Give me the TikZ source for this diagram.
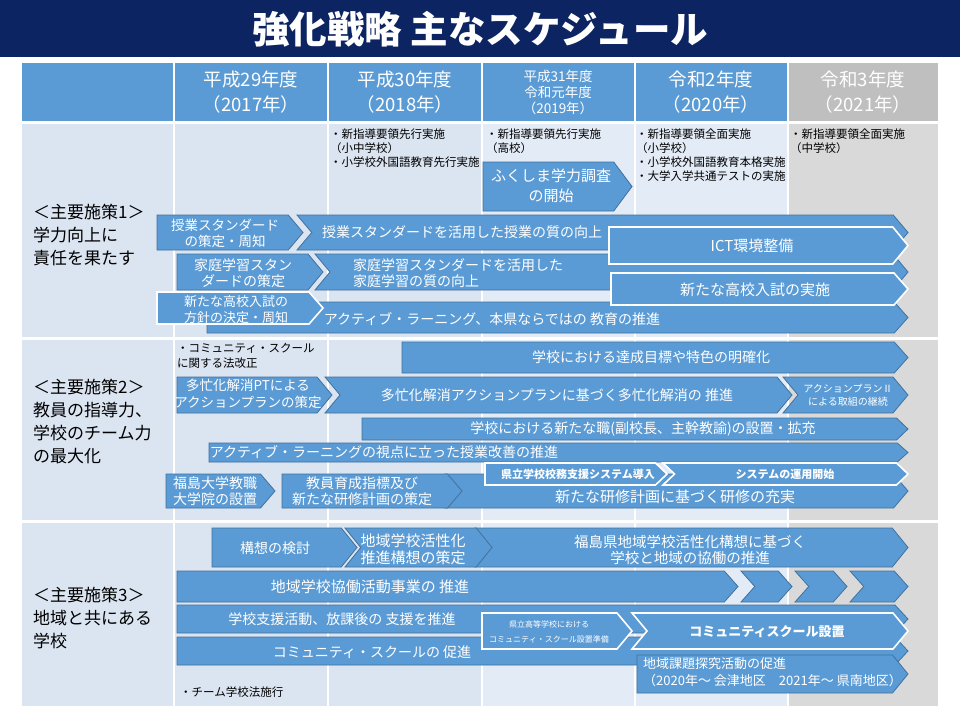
\documentclass[tikz,border=0pt]{standalone}
\usepackage{fontspec}
\setmainfont{Noto Sans CJK JP}
\usepackage{tikz}

\definecolor{navy}{RGB}{12,36,98}
\definecolor{hdblue}{RGB}{91,155,213}
\definecolor{hdgray}{RGB}{191,191,191}
\definecolor{cellA}{RGB}{219,228,241}
\definecolor{cellB}{RGB}{227,235,246}
\definecolor{cellG}{RGB}{217,217,217}
\definecolor{barblue}{RGB}{91,155,213}
\definecolor{bardark}{RGB}{65,113,156}

% 矢印バー：style, 左x, 先端x, 上y, 下y, 左の切欠き(0/1)
\newcommand{\arrbar}[6]{%
  \pgfmathsetmacro{\tipd}{0.25*(#5-#4)+6}%
  \pgfmathsetmacro{\ymid}{(#4+#5)/2}%
  \draw[#1] (#2,#4) -- ({#3-\tipd},#4) -- (#3,\ymid) -- ({#3-\tipd},#5) -- (#2,#5) -- ({#2+#6*\tipd},\ymid) -- cycle;}

\begin{document}
\begin{tikzpicture}[x=1pt, y=-1pt, line join=miter,
  bar/.style={fill=barblue, draw=bardark, line width=0.8pt},
  wbar/.style={fill=barblue, draw=white, line width=1.6pt},
  wtxt/.style={text=white, inner sep=0pt, align=center, font=\fontsize{14}{16.5}\selectfont},
  note/.style={anchor=north west, inner sep=0pt, align=left, font=\fontsize{11.5}{14}\selectfont},
  head/.style={text=white, inner sep=0pt, align=center, font=\fontsize{18.5}{25}\selectfont},
  side/.style={anchor=west, inner sep=0pt, align=left, font=\fontsize{17}{23}\selectfont}]

  %% ════ 背景・タイトル ════
  \fill[white] (0,0) rectangle (960,720);
  \fill[navy] (0,0) rectangle (960,57);
  \node[text=white, draw=none, inner sep=0pt, font=\fontsize{37.5}{40}\selectfont\bfseries] (title) at (480,29) {強化戦略 主なスケジュール};

  %% ════ 表の枠 ════
  \fill[hdblue] (22,63) rectangle (788,121);
  \fill[hdgray] (788,63) rectangle (938,121);
  \fill[cellA] (22,124) rectangle (482,706);
  \fill[cellB] (482,124) rectangle (788,706);
  \fill[cellG] (788,124) rectangle (938,706);
  \foreach \gx in {174,328,482,635,788}
    \draw[white, line width=1.5pt] (\gx,63) -- (\gx,706);
  \foreach \gy in {122.5,338.5,521.5}
    \draw[white, line width=2.5pt] (22,\gy) -- (938,\gy);

  %% ════ 年度 ════
  \node[head] (y2017) at (251,92) {平成29年度\\（2017年）};
  \node[head] (y2018) at (405,92) {平成30年度\\（2018年）};
  \node[head, font=\fontsize{13.5}{16}\selectfont] (y2019) at (558,92) {平成31年度\\令和元年度\\（2019年）};
  \node[head] (y2020) at (711,92) {令和2年度\\（2020年）};
  \node[head] (y2021) at (863,92) {令和3年度\\（2021年）};

  %% ════ 主要施策 ════
  \node[side] (sec1) at (33,235) {＜主要施策1＞\\学力向上に\\責任を果たす};
  \node[side] (sec2) at (33,421) {＜主要施策2＞\\教員の指導力、\\学校のチーム力\\の最大化};
  \node[side] (sec3) at (33,618) {＜主要施策3＞\\地域と共にある\\学校};

  %% ════ 施策1 ════
  \node[note] (n2018) at (330,129) {・新指導要領先行実施\\（小中学校）\\・小学校外国語教育先行実施};
  \node[note] (n2019) at (486,129) {・新指導要領先行実施\\（高校）};
  \node[note] (n2020) at (636,129) {・新指導要領全面実施\\（小学校）\\・小学校外国語教育本格実施\\・大学入学共通テストの実施};
  \node[note] (n2021) at (790,129) {・新指導要領全面実施\\（中学校）};

  \arrbar{bar}{483}{632}{162}{211}{0}
  \node[wtxt, font=\fontsize{15}{20}\selectfont] (fukuTest) at (551,186) {ふくしま学力調査\\の開始};

  \arrbar{bar}{297}{908}{215}{250}{1}
  \node[wtxt] (jugyoUp) at (462,232) {授業スタンダードを活用した授業の質の向上};
  \arrbar{bar}{157}{303}{215}{250}{0}
  \node[wtxt, font=\fontsize{13.5}{16}\selectfont] (jugyoStd) at (225,233) {授業スタンダード\\の策定・周知};

  \arrbar{bar}{315}{908}{254}{290}{1}
  \node[wtxt, anchor=west, align=left] (kateiUp) at (353,273) {家庭学習スタンダードを活用した\\家庭学習の質の向上};
  \arrbar{bar}{177}{323}{254}{290}{0}
  \node[wtxt] (kateiStd) at (243,273) {家庭学習スタン\\ダードの策定};

  \arrbar{wbar}{609}{908}{227}{264}{0}
  \node[wtxt, font=\fontsize{15}{17}\selectfont] (ict) at (752,246) {ICT環境整備};

  \arrbar{bar}{207}{908}{302}{333}{0}
  \node[wtxt] (active1) at (492,319) {アクティブ・ラーニング、本県ならではの 教育の推進};

  \arrbar{wbar}{611}{908}{273}{305}{0}
  \node[wtxt, font=\fontsize{15}{17}\selectfont] (nyushiDo) at (755,290) {新たな高校入試の実施};

  \arrbar{wbar}{157}{323}{292}{324}{0}
  \node[wtxt, font=\fontsize{13}{16}\selectfont] (nyushiPlan) at (236,310) {新たな高校入試の\\方針の決定・周知};

  %% ════ 施策2 ════
  \node[note, font=\fontsize{11.5}{15}\selectfont] (nLaw) at (177,343) {・コミュニティ・スクール\\に関する法改正};

  \arrbar{bar}{402}{908}{342}{373}{0}
  \node[wtxt] (goal) at (651,357) {学校における達成目標や特色の明確化};

  \arrbar{bar}{325}{792}{377}{413}{1}
  \node[wtxt] (tabouDo) at (557,395) {多忙化解消アクションプランに基づく多忙化解消の 推進};
  \arrbar{bar}{783}{908}{377}{413}{1}
  \node[wtxt, font=\fontsize{10}{13}\selectfont] (plan2) at (848,395) {アクションプランⅡ\\による取組の継続};
  \arrbar{bar}{177}{332}{377}{413}{0}
  \node[wtxt, font=\fontsize{13.5}{17}\selectfont] (tabouPT) at (248,394) {多忙化解消PTによる\\アクションプランの策定};

  \arrbar{bar}{362}{908}{418}{440}{0}
  \node[wtxt] (newPost) at (643,429) {学校における新たな職(副校長、主幹教諭)の設置・拡充};

  \arrbar{bar}{209}{908}{443}{462}{0}
  \node[wtxt] (active2) at (384,452) {アクティブ・ラーニングの視点に立った授業改善の推進};

  \arrbar{bar}{445}{908}{474}{508}{1}
  \node[wtxt, font=\fontsize{15}{17}\selectfont] (kenshuDo) at (675,497) {新たな研修計画に基づく研修の充実};
  \arrbar{bar}{282}{462}{474}{508}{0}
  \node[wtxt, font=\fontsize{14}{16}\selectfont] (kyouin) at (362,491) {教員育成指標及び\\新たな研修計画の策定};
  \arrbar{bar}{166}{275}{474}{508}{0}
  \node[wtxt, font=\fontsize{14}{16}\selectfont] (fukuDai) at (215,491) {福島大学教職\\大学院の設置};

  \arrbar{wbar}{485}{667}{463}{485}{0}
  \node[wtxt, font=\fontsize{11}{13}\selectfont\bfseries] (koumu) at (578,474) {県立学校校務支援システム導入};
  \arrbar{wbar}{663}{908}{463}{485}{1}
  \node[wtxt, font=\fontsize{11}{13}\selectfont\bfseries] (koumuRun) at (785,474) {システムの運用開始};

  %% ════ 施策3 ════
  \arrbar{bar}{475}{908}{528}{567}{1}
  \node[wtxt, font=\fontsize{14.5}{16.5}\selectfont] (kyoudou) at (690,550) {福島県地域学校活性化構想に基づく\\学校と地域の協働の推進};
  \arrbar{bar}{345}{492}{528}{567}{1}
  \node[wtxt, font=\fontsize{15}{17}\selectfont] (suishin) at (413,549) {地域学校活性化\\推進構想の策定};
  \arrbar{bar}{212}{357}{528}{567}{0}
  \node[wtxt] (kousou) at (275,548) {構想の検討};

  \arrbar{bar}{177}{738}{571}{602}{0}
  \node[wtxt, font=\fontsize{15}{17}\selectfont] (kyoudouAct) at (370,587) {地域学校協働活動事業の 推進};
  \foreach \cx/\cr in {741/792, 795/847, 850/908}
    \arrbar{bar}{\cx}{\cr}{571}{602}{1};

  \arrbar{bar}{177}{908}{605}{633}{0}
  \node[wtxt] (shien) at (342,619) {学校支援活動、放課後の 支援を推進};
  \arrbar{bar}{177}{908}{637}{665}{0}
  \node[wtxt] (csPromo) at (372,652) {コミュニティ・スクールの 促進};

  \arrbar{wbar}{482}{632}{613}{649}{0}
  \node[wtxt, font=\fontsize{8}{15}\selectfont] (csPrep) at (549,632) {県立高等学校における\\コミュニティ・スクール設置準備};
  \arrbar{wbar}{632}{908}{613}{649}{1}
  \node[wtxt, font=\fontsize{13}{15}\selectfont\bfseries] (csSet) at (767,632) {コミュニティスクール設置};

  \arrbar{bar}{637}{908}{655}{693}{0}
  \node[wtxt, anchor=west, align=left, font=\fontsize{13}{17}\selectfont] (chiiki) at (643,672) {地域課題探究活動の促進\\（2020年～ 会津地区　2021年～ 県南地区）};

  \node[note, anchor=west] (nTeam) at (180,692) {・チーム学校法施行};

  % キャンバス固定
  \pgfresetboundingbox
  \path[use as bounding box] (0,0) rectangle (960,720);
\end{tikzpicture}
\end{document}
